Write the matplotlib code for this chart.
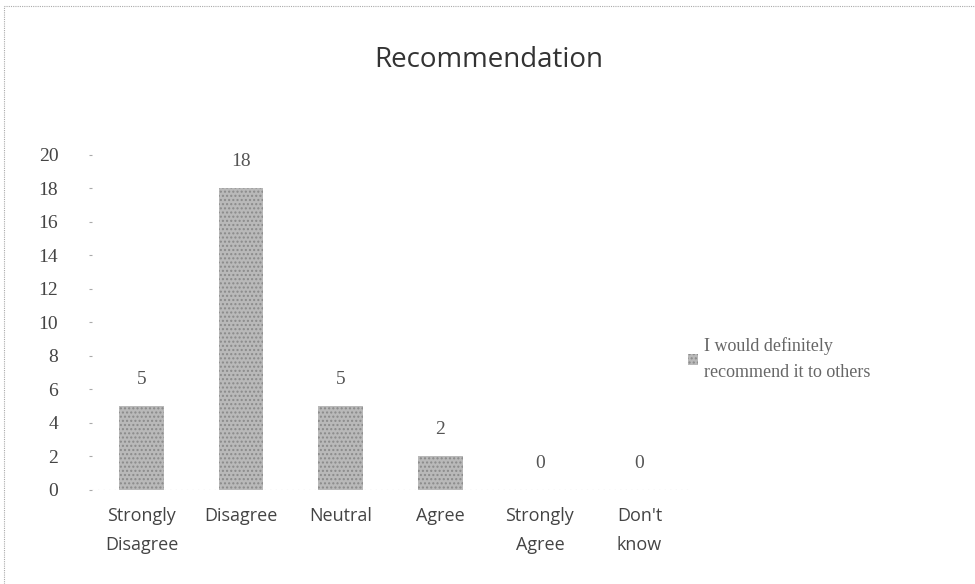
import matplotlib.pyplot as plt
from matplotlib.patches import Rectangle

categories = ["Strongly\nDisagree", "Disagree", "Neutral", "Agree", "Strongly\nAgree", "Don't\nknow"]
values = [5, 18, 5, 2, 0, 0]
series_name = "I would definitely\nrecommend it to others"
yticks = list(range(0, 21, 2))

fig = plt.figure(figsize=(9.75, 5.84), dpi=100)
ax = fig.add_axes([0.094, 0.161, 0.613, 0.574])

x = list(range(len(categories)))
bars = ax.bar(x, values, width=0.45, color="#b9b9b9", edgecolor="#8a8a8a",
              hatch="....", linewidth=0, label=series_name)

for xi, v in zip(x, values):
    ax.text(xi, v + 1.1, str(v), ha="center", va="bottom", fontsize=14,
            color="#555555", family="Liberation Serif")

ax.set_xlim(-0.5, len(categories) - 0.5)
ax.set_ylim(0, 20)
ax.set_yticks(yticks)
ax.set_yticklabels([str(t) for t in yticks], family="Liberation Serif", fontsize=14, color="#444444")
ax.set_xticks(x)
ax.set_xticklabels(categories, fontsize=13, color="#444444", family="Open Sans", linespacing=1.8)

for s in ax.spines.values():
    s.set_visible(False)
ax.tick_params(axis="y", length=2, color="#aaaaaa", pad=22)
ax.tick_params(axis="x", length=0, pad=12)
ax.axhline(0, color="#999999", lw=0.8, ls=(0, (1, 4)))

ax.set_title("Recommendation", fontsize=20, color="#333333", family="Open Sans", pad=63,
             x=0.665)

leg = ax.legend(loc="center left", bbox_to_anchor=(0.97, 0.39), frameon=False,
                handlelength=0.6, handleheight=0.6, handletextpad=0.3,
                prop={"family": "Liberation Serif", "size": 13}, labelcolor="#666666")
for t in leg.get_texts():
    t.set_linespacing(1.7)

# dotted frame around the chart area
fig.patches.append(Rectangle((0.004, -0.01), 1.1, 1.0, transform=fig.transFigure,
                             fill=False, edgecolor="#aaaaaa", lw=0.8, ls=(0, (1, 1))))

fig.savefig("out.png", dpi=100)
